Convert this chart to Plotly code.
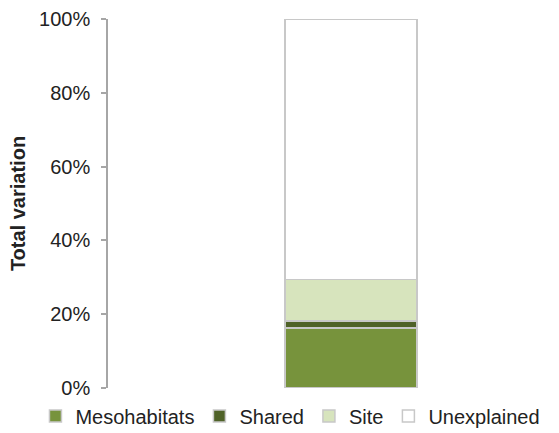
import plotly.graph_objects as go

# Variation partitioning (share of total variation, %)
components = ["Mesohabitats", "Shared", "Site", "Unexplained"]
shares = [16.2, 2.0, 11.2, 70.6]
fill_colors = ["#77933C", "#4F6228", "#D7E4BD", "#FFFFFF"]

y_ticks = [0, 20, 40, 60, 80, 100]
y_tick_labels = ["0%", "20%", "40%", "60%", "80%", "100%"]

fig = go.Figure()
for name, val, col in zip(components, shares, fill_colors):
    fig.add_trace(go.Bar(
        x=[0], y=[val], name=name,
        marker=dict(color=col, line=dict(color="#C8C8C8", width=1.5)),
        width=0.6,
    ))

fig.update_layout(
    barmode="stack",
    width=559, height=433,
    margin=dict(l=108, r=14, t=19, b=45, autoexpand=False),
    paper_bgcolor="white", plot_bgcolor="white",
    font=dict(family="Liberation Sans, Arial, sans-serif", size=20, color="#222222"),
    showlegend=True,
    legend=dict(
        orientation="h", xref="paper", yref="paper",
        x=-0.166, xanchor="left", y=-0.076, yanchor="middle",
        font=dict(size=20), itemwidth=30, traceorder="normal",
        bgcolor="rgba(0,0,0,0)",
    ),
    xaxis=dict(visible=False, range=[-1.104, 0.882]),
    yaxis=dict(
        range=[0, 100], tickvals=y_ticks, ticktext=y_tick_labels,
        showgrid=False, zeroline=False,
        showline=True, linecolor="#A6A6A6", linewidth=1.5,
        ticks="outside", ticklen=5, tickcolor="#A6A6A6", tickwidth=1.5,
        ticklabelstandoff=7,
        title=dict(text="<b>Total variation</b>", font=dict(size=20), standoff=8),
    ),
)

fig.write_html("out.html")
